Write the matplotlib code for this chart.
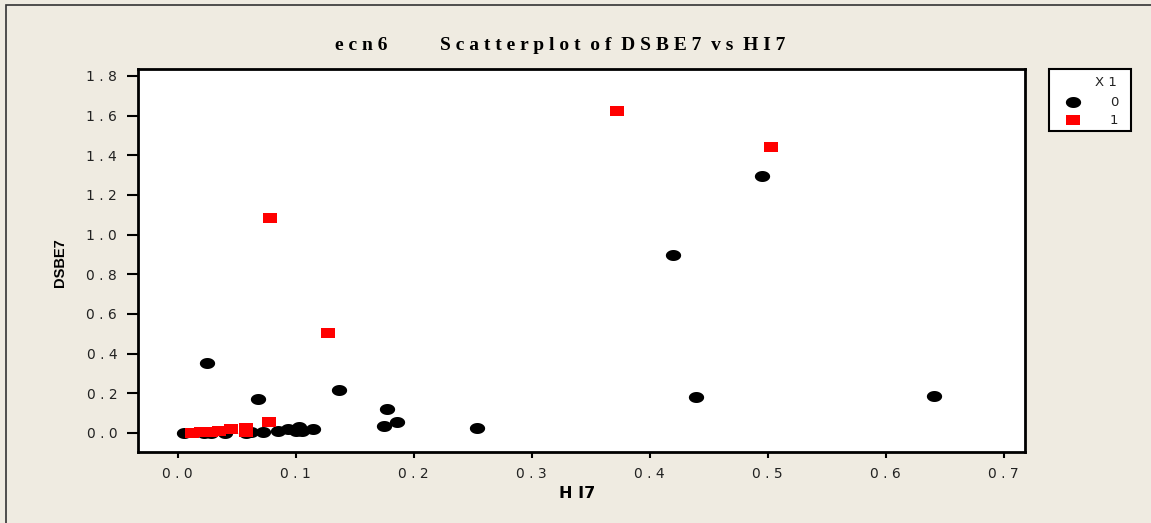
import numpy as np
import matplotlib
matplotlib.use("Agg")
import matplotlib.pyplot as plt
from matplotlib.path import Path
from matplotlib.lines import Line2D
from matplotlib.patches import Rectangle

# ---- data ----
hi7_0 = [0.005, 0.022, 0.028, 0.040, 0.058, 0.062, 0.072, 0.085, 0.093, 0.100,
         0.103, 0.105, 0.115, 0.025, 0.068, 0.137, 0.177, 0.175, 0.186, 0.254,
         0.420, 0.439, 0.495, 0.641]
dsbe7_0 = [0.000, 0.000, 0.000, 0.000, 0.000, 0.005, 0.005, 0.012, 0.020, 0.010,
           0.030, 0.010, 0.018, 0.353, 0.171, 0.217, 0.121, 0.035, 0.055, 0.025,
           0.898, 0.180, 1.296, 0.187]
hi7_1 = [0.012, 0.020, 0.028, 0.035, 0.045, 0.058, 0.058, 0.077, 0.078, 0.127,
         0.372, 0.503]
dsbe7_1 = [0.000, 0.004, 0.005, 0.012, 0.018, 0.025, 0.005, 0.055, 1.084, 0.504,
           1.624, 1.442]
xticks = [0.0, 0.1, 0.2, 0.3, 0.4, 0.5, 0.6, 0.7]
xticklabels = ["0 . 0", "0 . 1", "0 . 2", "0 . 3", "0 . 4", "0 . 5", "0 . 6", "0 . 7"]
yticks = [0.0, 0.2, 0.4, 0.6, 0.8, 1.0, 1.2, 1.4, 1.6, 1.8]
yticklabels = ["0 . 0", "0 . 2", "0 . 4", "0 . 6", "0 . 8", "1 . 0", "1 . 2", "1 . 4", "1 . 6", "1 . 8"]
groups = ["0", "1"]

W, H = 1151, 523
BG = "#EFEBE1"

def fx(x):
    return x / W

def fy(y):
    return 1 - y / H

t = np.linspace(0, 2 * np.pi, 60)
ellipse = Path(np.column_stack([np.cos(t), 0.72 * np.sin(t)]), closed=True)
rect = Path([(-1, -0.7), (1, -0.7), (1, 0.7), (-1, 0.7), (-1, -0.7)], closed=True)

fig = plt.figure(figsize=(W / 100, H / 100), dpi=100)
fig.patch.set_facecolor(BG)

# outer frame
fig.add_artist(Rectangle((fx(6), fy(530)), fx(1160 - 6), 530 / H - 5 / H + 0.0,
                         transform=fig.transFigure, fill=False,
                         edgecolor="#333333", linewidth=1.2))

ax = fig.add_axes([fx(138), fy(452), fx(1025 - 138), (452 - 69) / H])
ax.set_facecolor("white")

ax.plot(hi7_0, dsbe7_0, linestyle="none", marker=ellipse, markersize=11,
        color="black", markeredgewidth=0)
ax.plot(hi7_1, dsbe7_1, linestyle="none", marker=rect, markersize=10,
        color="#FF0000", markeredgewidth=0)

ax.set_xlim(-0.0337, 0.718)
ax.set_ylim(-0.096, 1.835)
ax.set_xticks(xticks)
ax.set_xticklabels(xticklabels)
ax.set_yticks(yticks)
ax.set_yticklabels(yticklabels)
for s in ax.spines.values():
    s.set_linewidth(2)
    s.set_color("black")
ax.tick_params(axis="x", direction="out", length=4.5, width=1.5, pad=6,
               labelsize=10, labelcolor="#222222")
ax.tick_params(axis="y", direction="out", length=8, width=1.5, pad=7,
               labelsize=10, labelcolor="#222222")

fig.text(fx(60), fy(263), "DSBE7", rotation=90, ha="center", va="center",
         fontsize=10.5, fontweight="bold", family="Liberation Sans")
fig.text(fx(577), fy(493), "H I7", ha="center", va="center",
         fontsize=11.5, fontweight="bold", family="DejaVu Sans")

fig.text(fx(335), fy(45), "e c n 6", ha="left", va="center",
         fontsize=14, fontweight="bold", family="Liberation Serif")
fig.text(fx(440), fy(45), "S c a t t e r p l o t  o f  D S B E 7  v s  H I 7",
         ha="left", va="center", fontsize=14, fontweight="bold",
         family="Liberation Serif")

# legend
fig.add_artist(Rectangle((fx(1049), fy(131)), fx(1131 - 1049), (131 - 69) / H,
                         transform=fig.transFigure, facecolor="white",
                         edgecolor="black", linewidth=1.5))
fig.text(fx(1117), fy(83), "X 1", ha="right", va="center", fontsize=9.5,
         color="#222222")
fig.add_artist(Line2D([fx(1073)], [fy(102)], transform=fig.transFigure,
                      marker=ellipse, markersize=11, color="black",
                      markeredgewidth=0, linestyle="none"))
fig.add_artist(Line2D([fx(1073)], [fy(120)], transform=fig.transFigure,
                      marker=rect, markersize=10, color="#FF0000",
                      markeredgewidth=0, linestyle="none"))
fig.text(fx(1114), fy(102), groups[0], ha="center", va="center", fontsize=9.5,
         color="#222222")
fig.text(fx(1114), fy(120), groups[1], ha="center", va="center", fontsize=9.5,
         color="#222222")

fig.savefig("out.png", dpi=100, facecolor=BG)
